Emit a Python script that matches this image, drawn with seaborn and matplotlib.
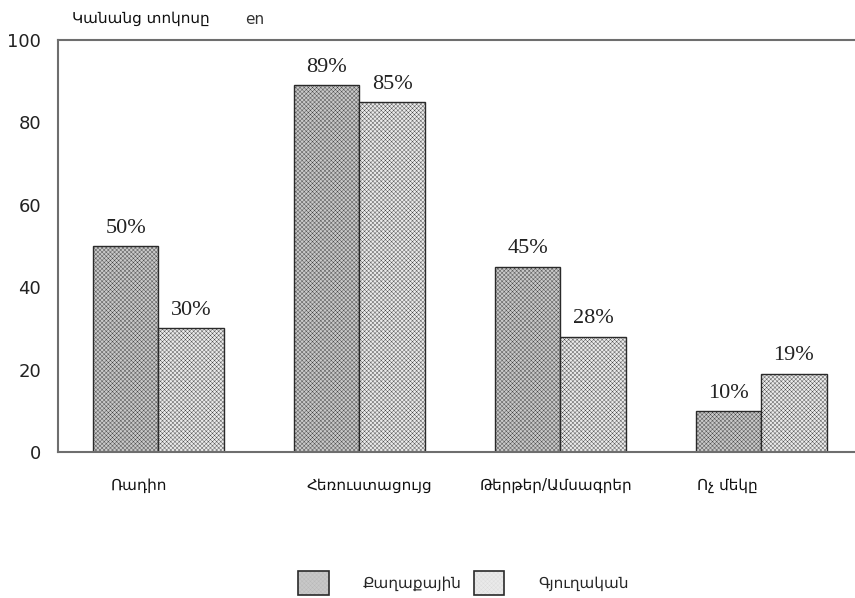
import matplotlib
matplotlib.use("Agg")
import matplotlib.pyplot as plt
import seaborn as sns
import pandas as pd
from matplotlib.patches import Patch

# Media types and share of women (%) by settlement type
categories = ["Ռադիո", "Հեռուստացույց", "Թերթեր/Ամսագրեր", "Ոչ մեկը"]
urban = [50, 89, 45, 10]
rural = [30, 85, 28, 19]
series_names = ["Քաղաքային", "Գյուղական"]
y_ticks = [0, 20, 40, 60, 80, 100]

# horizontal nudges for the category captions (in category units)
label_shift = [-0.10, 0.05, -0.02, -0.17]

df = pd.DataFrame({
    "category": categories * 2,
    "value": urban + rural,
    "series": [series_names[0]] * len(categories) + [series_names[1]] * len(categories),
})

sns.set_theme(style="white")
plt.rcParams["font.family"] = ["DejaVu Sans"]
plt.rcParams["hatch.linewidth"] = 0.25

fig = plt.figure(figsize=(8.55, 5.98), dpi=100)
ax = fig.add_axes([0.0678, 0.244, 0.94, 0.689])

face = ["#c8c8c8", "#eaeaea"]
hatch_col = ["#b6b6b6", "#dadada"]
hatch = "xxxxxxxx"
sns.barplot(data=df, x="category", y="value", hue="series", order=categories,
            hue_order=series_names, palette=face, width=0.65, gap=0,
            edgecolor="#2a2a2a", linewidth=1.0, legend=False, ax=ax)

for i, cont in enumerate(ax.containers):
    for bar in cont:
        bar.set_hatch(hatch)
        bar._hatch_color = matplotlib.colors.to_rgba(hatch_col[i])
        bar.set_edgecolor("#2a2a2a")
    ax.bar_label(cont, labels=[f"{v:g}%" for v in cont.datavalues], padding=6,
                 fontsize=16, family="Liberation Serif", color="#222222")

ax.set_ylim(0, 100)
ax.set_xlim(-0.5, 3.5)
ax.set_yticks(y_ticks)
ax.set_yticklabels([str(t) for t in y_ticks], fontsize=13, color="#222222")
ax.tick_params(axis="y", length=0, pad=12)
ax.set_xticks([])
ax.set_xlabel("")
ax.set_ylabel("")

for i, name in enumerate(categories):
    ax.text(i + label_shift[i], -8, name, ha="center", va="center",
            fontsize=11, color="#111111")

for side in ["left", "top", "bottom"]:
    ax.spines[side].set_visible(True)
    ax.spines[side].set_color("#6e6e6e")
    ax.spines[side].set_linewidth(1.5)
ax.spines["right"].set_visible(False)

fig.text(72 / 855, 1 - 18 / 598, "Կանանց տոկոսը", ha="left", va="center",
         fontsize=11, color="#111111")
fig.text(245 / 855, 1 - 20 / 598, "en", ha="left", va="center",
         fontsize=11, color="#333333")

handles = [Patch(facecolor=face[k], edgecolor="#2a2a2a", hatch=hatch, linewidth=1.2)
           for k in range(2)]
for k, h in enumerate(handles):
    h._hatch_color = matplotlib.colors.to_rgba(hatch_col[k])
leg = fig.legend(handles, series_names, loc="lower center", ncol=2, frameon=False,
                 bbox_to_anchor=(0.542, -0.018), fontsize=11,
                 handlelength=2.0, handleheight=2.0, handletextpad=2.2,
                 columnspacing=0.8)

fig.savefig("out.png", dpi=100)
